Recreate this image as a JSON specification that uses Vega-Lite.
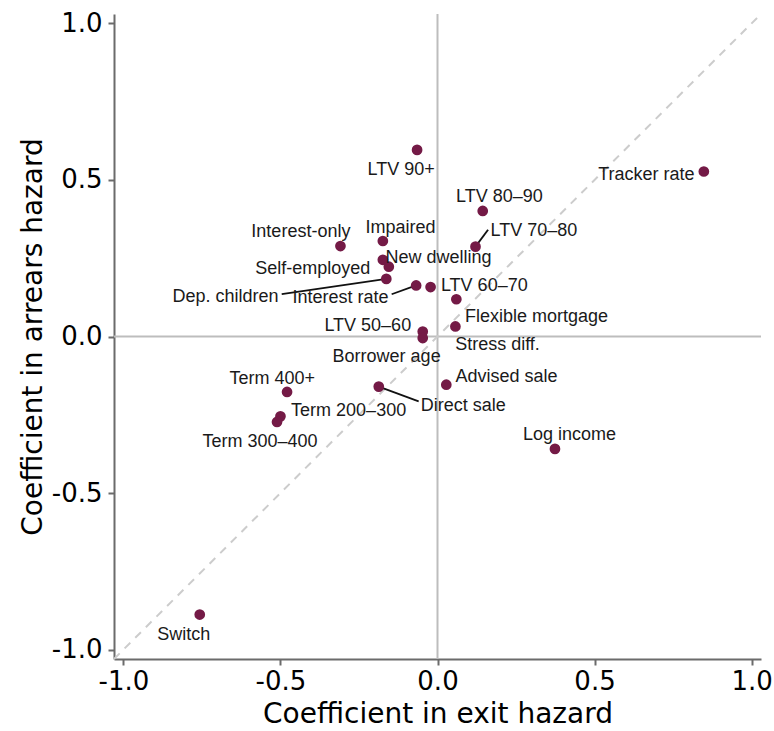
{
  "$schema": "https://vega.github.io/schema/vega-lite/v6.json",
  "autosize": {"type": "none"},
  "width": 647,
  "height": 645,
  "padding": {"left": 114, "top": 14, "right": 13, "bottom": 72},
  "background": "white",
  "config": {
    "view": {"stroke": null},
    "axis": {
      "grid": false,
      "domainColor": "#6b6b6b",
      "domainWidth": 2,
      "tickColor": "#6b6b6b",
      "tickWidth": 2,
      "tickSize": 6,
      "labelFont": "DejaVu Sans",
      "labelFontSize": 26,
      "labelColor": "#000000",
      "titleFont": "DejaVu Sans",
      "titleFontSize": 28,
      "titleFontWeight": "normal",
      "titleColor": "#000000",
      "labelPadding": 3
    }
  },
  "datasets": {
    "pts": [
      {"label": "LTV 90+", "x": -0.065, "y": 0.596, "lx": -0.116, "ly": 0.541},
      {"label": "Tracker rate", "x": 0.848, "y": 0.527, "lx": 0.665, "ly": 0.523},
      {"label": "LTV 80–90", "x": 0.144, "y": 0.401, "lx": 0.197, "ly": 0.452},
      {"label": "LTV 70–80", "x": 0.121, "y": 0.287, "lx": 0.307, "ly": 0.344, "sx": 0.161, "sy": 0.341},
      {"label": "Interest-only", "x": -0.309, "y": 0.289, "lx": -0.435, "ly": 0.341},
      {"label": "Impaired", "x": -0.174, "y": 0.305, "lx": -0.118, "ly": 0.354},
      {"label": "Self-employed", "x": -0.174, "y": 0.245, "lx": -0.397, "ly": 0.223},
      {"label": "New dwelling", "x": -0.155, "y": 0.223, "lx": 0.003, "ly": 0.258},
      {"label": "Dep. children", "x": -0.163, "y": 0.184, "lx": -0.675, "ly": 0.133, "sx": -0.496, "sy": 0.135},
      {"label": "Interest rate", "x": -0.068, "y": 0.163, "lx": -0.309, "ly": 0.131, "sx": -0.146, "sy": 0.135},
      {"label": "LTV 60–70", "x": -0.022, "y": 0.158, "lx": 0.149, "ly": 0.17},
      {"label": "Flexible mortgage", "x": 0.06, "y": 0.119, "lx": 0.315, "ly": 0.069},
      {"label": "Stress diff.", "x": 0.057, "y": 0.032, "lx": 0.191, "ly": -0.019},
      {"label": "LTV 50–60", "x": -0.047, "y": 0.016, "lx": -0.222, "ly": 0.04},
      {"label": "Borrower age", "x": -0.047, "y": -0.005, "lx": -0.162, "ly": -0.058},
      {"label": "Advised sale", "x": 0.028, "y": -0.154, "lx": 0.22, "ly": -0.122},
      {"label": "Direct sale", "x": -0.187, "y": -0.16, "lx": 0.082, "ly": -0.213, "sx": -0.06, "sy": -0.207},
      {"label": "Term 400+", "x": -0.479, "y": -0.177, "lx": -0.526, "ly": -0.128},
      {"label": "Term 200–300", "x": -0.5, "y": -0.255, "lx": -0.283, "ly": -0.229},
      {"label": "Term 300–400", "x": -0.511, "y": -0.273, "lx": -0.565, "ly": -0.33},
      {"label": "Log income", "x": 0.374, "y": -0.359, "lx": 0.42, "ly": -0.308},
      {"label": "Switch", "x": -0.757, "y": -0.888, "lx": -0.808, "ly": -0.945}
    ],
    "zero": [{"v": 0}],
    "diag": [{"a": -1.03, "b": 1.03}]
  },
  "layer": [
    {
      "data": {"name": "zero"},
      "mark": {"type": "rule", "color": "#bdbdbd", "strokeWidth": 2},
      "encoding": {
        "x": {"field": "v", "type": "quantitative", "scale": {"domain": [-1.03, 1.03], "nice": false, "zero": false},
          "axis": {"title": "Coefficient in exit hazard", "values": [-1, -0.5, 0, 0.5, 1], "format": ".1f", "labelExpr": "replace(datum.label, '−', '-')", "titlePadding": 6}}
      }
    },
    {
      "data": {"name": "zero"},
      "mark": {"type": "rule", "color": "#bdbdbd", "strokeWidth": 2},
      "encoding": {
        "y": {"field": "v", "type": "quantitative", "scale": {"domain": [-1.03, 1.03], "nice": false, "zero": false},
          "axis": {"title": "Coefficient in arrears hazard", "values": [-1, -0.5, 0, 0.5, 1], "format": ".1f", "labelExpr": "replace(datum.label, '−', '-')", "labelPadding": 6, "titlePadding": 4}}
      }
    },
    {
      "data": {"name": "diag"},
      "mark": {"type": "rule", "color": "#cccccc", "strokeWidth": 2, "strokeDash": [8, 7]},
      "encoding": {
        "x": {"field": "a", "type": "quantitative", "scale": {"domain": [-1.03, 1.03], "nice": false, "zero": false},
          "axis": {"title": "Coefficient in exit hazard", "values": [-1, -0.5, 0, 0.5, 1], "format": ".1f", "labelExpr": "replace(datum.label, '−', '-')", "titlePadding": 6}},
        "y": {"field": "a", "type": "quantitative", "scale": {"domain": [-1.03, 1.03], "nice": false, "zero": false},
          "axis": {"title": "Coefficient in arrears hazard", "values": [-1, -0.5, 0, 0.5, 1], "format": ".1f", "labelExpr": "replace(datum.label, '−', '-')", "labelPadding": 6, "titlePadding": 4}},
        "x2": {"field": "b"},
        "y2": {"field": "b"}
      }
    },
    {
      "data": {"name": "pts"},
      "transform": [{"filter": "isValid(datum.sx)"}],
      "mark": {"type": "rule", "color": "#111111", "strokeWidth": 1.8},
      "encoding": {
        "x": {"field": "x", "type": "quantitative", "scale": {"domain": [-1.03, 1.03], "nice": false, "zero": false},
          "axis": {"title": "Coefficient in exit hazard", "values": [-1, -0.5, 0, 0.5, 1], "format": ".1f", "labelExpr": "replace(datum.label, '−', '-')", "titlePadding": 6}},
        "y": {"field": "y", "type": "quantitative", "scale": {"domain": [-1.03, 1.03], "nice": false, "zero": false},
          "axis": {"title": "Coefficient in arrears hazard", "values": [-1, -0.5, 0, 0.5, 1], "format": ".1f", "labelExpr": "replace(datum.label, '−', '-')", "labelPadding": 6, "titlePadding": 4}},
        "x2": {"field": "sx"},
        "y2": {"field": "sy"}
      }
    },
    {
      "data": {"name": "pts"},
      "mark": {"type": "circle", "color": "#741a46", "opacity": 1, "size": 115},
      "encoding": {
        "x": {"field": "x", "type": "quantitative", "scale": {"domain": [-1.03, 1.03], "nice": false, "zero": false},
          "axis": {"title": "Coefficient in exit hazard", "values": [-1, -0.5, 0, 0.5, 1], "format": ".1f", "labelExpr": "replace(datum.label, '−', '-')", "titlePadding": 6}},
        "y": {"field": "y", "type": "quantitative", "scale": {"domain": [-1.03, 1.03], "nice": false, "zero": false},
          "axis": {"title": "Coefficient in arrears hazard", "values": [-1, -0.5, 0, 0.5, 1], "format": ".1f", "labelExpr": "replace(datum.label, '−', '-')", "labelPadding": 6, "titlePadding": 4}}
      }
    },
    {
      "data": {"name": "pts"},
      "mark": {"type": "text", "font": "Liberation Sans", "fontSize": 18, "color": "#1a1a1a", "align": "center", "baseline": "middle", "dy": 2.5},
      "encoding": {
        "x": {"field": "lx", "type": "quantitative", "scale": {"domain": [-1.03, 1.03], "nice": false, "zero": false},
          "axis": {"title": "Coefficient in exit hazard", "values": [-1, -0.5, 0, 0.5, 1], "format": ".1f", "labelExpr": "replace(datum.label, '−', '-')", "titlePadding": 6}},
        "y": {"field": "ly", "type": "quantitative", "scale": {"domain": [-1.03, 1.03], "nice": false, "zero": false},
          "axis": {"title": "Coefficient in arrears hazard", "values": [-1, -0.5, 0, 0.5, 1], "format": ".1f", "labelExpr": "replace(datum.label, '−', '-')", "labelPadding": 6, "titlePadding": 4}},
        "text": {"field": "label"}
      }
    }
  ]
}
